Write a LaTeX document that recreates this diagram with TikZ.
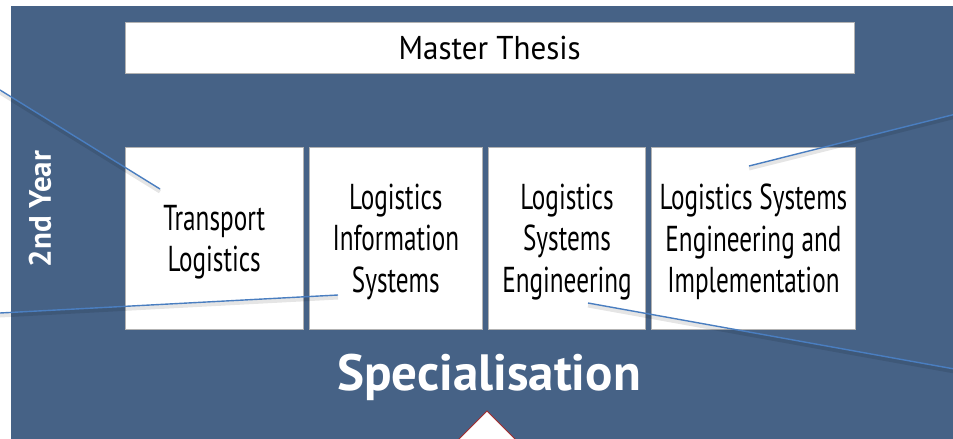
\documentclass[tikz,border=0pt]{standalone}
\usepackage{fontspec}
\setmainfont{PT Sans}
\newfontfamily\condfont[FakeStretch=0.70]{PT Sans}
\newfontfamily\semifont[FakeStretch=0.94]{PT Sans}
\usetikzlibrary{positioning}

\definecolor{panel}{RGB}{70,98,134}
\definecolor{link}{RGB}{74,126,192}
\definecolor{apex}{RGB}{165,45,45}

\tikzset{
  course/.style={draw=gray!60,fill=white,minimum height=182pt,inner sep=0pt,
    text depth=-8pt,align=center,font=\condfont\fontsize{36}{41.5}\selectfont},
  callout/.style={draw=link,line width=1.4pt},
  calloutshadow/.style={draw=black,opacity=0.1,line width=4pt,
    transform canvas={yshift=-2.5pt}}
}

\begin{document}
\begin{tikzpicture}[x=1pt,y=-1pt,node distance=5.5pt]
\useasboundingbox (0,0) rectangle (953,439);
\clip (0,0) rectangle (953,439);
\fill[panel] (11,6) rectangle (960,445);

\node[course,minimum width=729pt,minimum height=51pt,anchor=north west,text depth=,
  font=\semifont\fontsize{33}{36}\selectfont] (thesis) at (125,22) {Master Thesis};

\node[course,minimum width=178pt,anchor=north west] (tl) at (125,147) {Transport\\Logistics};
\node[course,minimum width=173.5pt] (lis) [right=of tl] {Logistics\\Information\\Systems};
\node[course,minimum width=157pt] (lse) [right=of lis] {Logistics\\Systems\\Engineering};
\node[course,minimum width=204pt] (lsei) [right=of lse] {Logistics Systems\\Engineering and\\Implementation};

\node[rotate=90,text=white,font=\bfseries\fontsize{31}{31}\selectfont] (year) at (40,209) {2nd Year};
\node[text=white,font=\bfseries\fontsize{51}{51}\selectfont] (spec) at (489,377) {Specialisation};

% pointer below
\filldraw[fill=white,draw=apex,line width=1pt] (449,449) -- (487,411) -- (525,449);

% callout lines
\coordinate (a1) at (0,90);   \coordinate (a2) at (160,189);
\coordinate (b1) at (0,313);  \coordinate (b2) at (338,295);
\coordinate (c1) at (960,113); \coordinate (c2) at (749,166);
\coordinate (d1) at (960,370); \coordinate (d2) at (588,303);
\foreach \s/\t in {a1/a2,b1/b2,c1/c2,d1/d2} {
  \draw[calloutshadow] (\s) -- (\t);
  \draw[callout] (\s) -- (\t);
}
\end{tikzpicture}
\end{document}
